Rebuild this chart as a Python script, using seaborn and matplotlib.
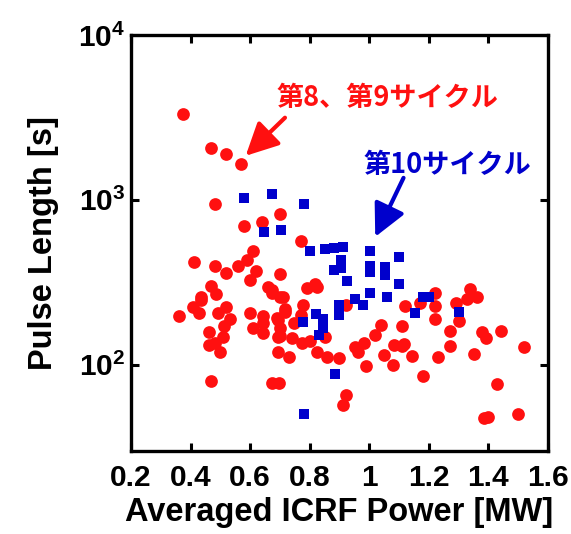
import matplotlib
matplotlib.use("Agg")
import matplotlib.pyplot as plt
import numpy as np
import pandas as pd
import seaborn as sns

# ---- data -------------------------------------------------------------
# Cycles 8 & 9 (red circles): averaged ICRF power [MW], pulse length [s]
red_power = [
    0.374, 0.470, 0.518, 0.568, 0.481, 0.700, 0.639, 0.579, 0.770, 0.610,
    0.588, 0.410, 0.481, 0.559, 0.520, 0.619, 0.700, 0.601, 0.470, 0.487,
    0.434, 0.660, 0.672, 0.700, 0.818, 0.792, 0.824, 0.672, 0.711, 0.778,
    0.717, 0.922, 1.121, 1.220, 1.338, 1.363, 1.329, 1.290, 1.220, 1.170,
    0.360, 0.408, 0.428, 0.436, 0.492, 0.520, 0.531, 0.511, 0.461, 0.509,
    0.461, 0.483, 0.500, 0.599, 0.642, 0.644, 0.610, 0.642, 0.694, 0.694,
    0.694, 0.470, 0.672, 0.698, 0.691, 0.717, 0.747, 0.770, 0.700, 0.700,
    0.739, 0.773, 0.801, 0.852, 0.730, 0.824, 0.859, 0.900, 0.953, 0.981,
    0.961, 1.020, 1.040, 0.990, 1.110, 1.048, 1.080, 1.082, 1.110, 0.922,
    0.911, 1.222, 1.301, 1.271, 1.380, 1.391, 1.442, 1.116, 1.271, 1.520,
    1.142, 1.230, 1.352, 1.181, 1.430, 1.385, 1.400, 1.500,
]
red_length = [
    3300, 2050, 1900, 1650, 940, 820, 730, 690, 560, 493,
    433, 419, 400, 398, 360, 368, 355, 327, 301, 268,
    259, 296, 272, 259, 310, 292, 296, 285, 257, 231,
    218, 231, 228, 272, 288, 257, 250, 237, 228, 237,
    199, 224, 206, 248, 206, 224, 190, 172, 159, 147,
    132, 135, 119, 206, 198, 179, 167, 156, 187, 148,
    120, 80, 78, 78, 192, 210, 180, 201, 167, 150,
    145, 136, 140, 147, 111, 119, 112, 110, 129, 136,
    120, 151, 175, 99, 171, 115, 100, 132, 130, 66,
    57, 190, 185, 161, 158, 145, 161, 133, 130, 129,
    113, 111, 116, 86, 76, 47.5, 48, 50,
]

# Cycle 10 (blue squares)
blue_power = [
    0.579, 0.673, 0.782, 0.648, 0.702, 0.801, 0.852, 0.880, 0.911, 0.905,
    0.906, 0.882, 0.925, 1.001, 1.001, 1.001, 1.052, 1.052, 1.101, 1.101,
    1.001, 1.060, 0.952, 0.979, 0.900, 0.900, 1.181, 1.200, 1.152, 1.301,
    0.821, 0.844, 0.844, 0.832, 0.778, 0.885, 0.781,
]
blue_length = [
    1030, 1090, 942, 643, 658, 491, 505, 510, 521, 433,
    385, 376, 324, 491, 398, 363, 391, 351, 449, 310,
    272, 257, 250, 231, 231, 201, 257, 257, 206, 210,
    204, 190, 167, 152, 183, 88, 50,
]

x_ticks = [0.2, 0.4, 0.6, 0.8, 1.0, 1.2, 1.4, 1.6]
x_tick_labels = ["0.2", "0.4", "0.6", "0.8", "1", "1.2", "1.4", "1.6"]
y_ticks = [1e2, 1e3, 1e4]
y_tick_labels = [r"$\mathbf{10^{2}}$", r"$\mathbf{10^{3}}$", r"$\mathbf{10^{4}}$"]

label_red = "第8、第9サイクル"
label_blue = "第10サイクル"
x_title = "Averaged ICRF Power [MW]"
y_title = "Pulse Length [s]"

RED = "#ff1010"
BLUE = "#0000cc"

# ---- style ------------------------------------------------------------
sns.set_style("ticks")
plt.rcParams["font.family"] = ["Liberation Sans", "DejaVu Sans"]
plt.rcParams["font.weight"] = "bold"
plt.rcParams["text.color"] = "black"
plt.rcParams["axes.labelcolor"] = "black"
plt.rcParams["xtick.color"] = "black"
plt.rcParams["ytick.color"] = "black"
plt.rcParams["mathtext.fontset"] = "custom"
plt.rcParams["mathtext.rm"] = "Liberation Sans:bold"
plt.rcParams["mathtext.it"] = "Liberation Sans:bold"
plt.rcParams["mathtext.bf"] = "Liberation Sans:bold"

df_red = pd.DataFrame({"power": red_power, "length": red_length})
df_blue = pd.DataFrame({"power": blue_power, "length": blue_length})

fig = plt.figure(figsize=(5.71, 5.34), dpi=100)
ax = fig.add_axes([0.2294, 0.1554, 0.7303, 0.7791])

sns.scatterplot(data=df_red, x="power", y="length", ax=ax, color=RED,
                marker="o", s=84, linewidth=0, zorder=3, legend=False)
sns.scatterplot(data=df_blue, x="power", y="length", ax=ax, color=BLUE,
                marker="s", s=52, linewidth=0, zorder=4, legend=False)

ax.set_yscale("log")
ax.set_xlim(0.2, 1.6)
ax.set_ylim(30, 1e4)
ax.set_xticks(x_ticks, labels=x_tick_labels)
ax.set_yticks(y_ticks, labels=y_tick_labels)
ax.yaxis.set_minor_locator(matplotlib.ticker.NullLocator())

ax.tick_params(axis="both", which="major", direction="in", length=6,
               width=2.2, top=True, right=True, labelsize=21.5,
               color="black", labelcolor="black")
ax.tick_params(axis="x", pad=9)
ax.tick_params(axis="y", pad=4)
for lab in ax.get_xticklabels():
    lab.set_fontweight("bold")
for sp in ax.spines.values():
    sp.set_linewidth(2.4)
    sp.set_color("black")

ax.set_xlabel(x_title, fontsize=23.5, fontweight="bold", labelpad=4,
              color="black")
ax.set_ylabel(y_title, fontsize=23.5, fontweight="bold", labelpad=14,
              color="black")

# ---- annotations ------------------------------------------------------
jp_font = ["Noto Sans CJK JP", "DejaVu Sans"]
ax.text(0.687, 4150, label_red, color=RED, fontsize=19.5, fontweight="bold",
        family=jp_font, ha="left", va="center")
ax.annotate("", xy=(0.585, 1850), xytext=(0.717, 3150),
            arrowprops=dict(arrowstyle="-|>,head_length=1.1,head_width=0.55",
                            color=RED, lw=3, mutation_scale=18,
                            shrinkA=0, shrinkB=0))

ax.text(0.980, 1630, label_blue, color=BLUE, fontsize=19.5, fontweight="bold",
        family=jp_font, ha="left", va="center")
ax.annotate("", xy=(1.020, 597), xytext=(1.115, 1360),
            arrowprops=dict(arrowstyle="-|>,head_length=1.1,head_width=0.55",
                            color=BLUE, lw=3, mutation_scale=18,
                            shrinkA=0, shrinkB=0))

fig.savefig("out.png", dpi=100)
